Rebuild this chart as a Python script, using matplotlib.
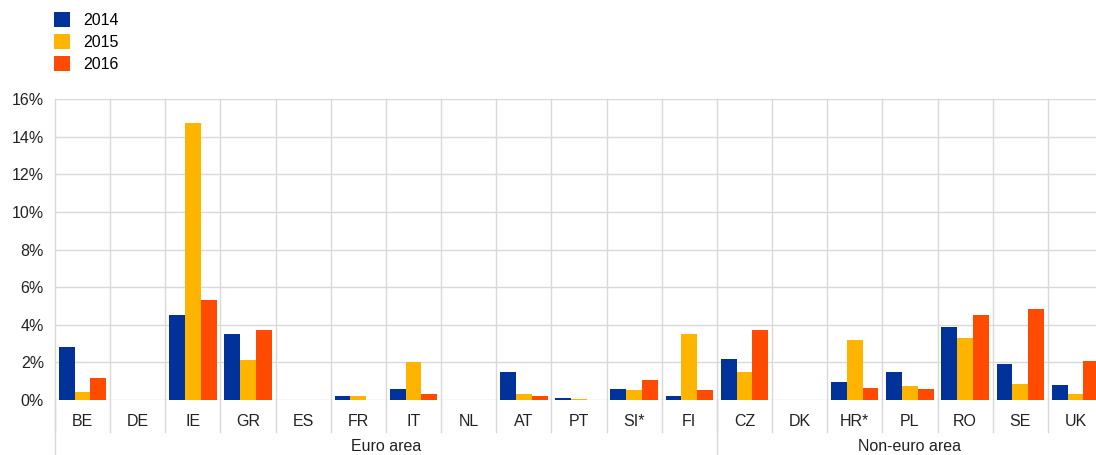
import matplotlib
matplotlib.use("Agg")
import matplotlib.pyplot as plt
import matplotlib.transforms as mtransforms
import numpy as np

plt.rcParams['font.family'] = ['Liberation Sans', 'DejaVu Sans']

categories = ["BE", "DE", "IE", "GR", "ES", "FR", "IT", "NL", "AT", "PT", "SI*", "FI",
              "CZ", "DK", "HR*", "PL", "RO", "SE", "UK"]
groups = ["Euro area", "Non-euro area"]
group_sizes = [12, 7]
series_names = ["2014", "2015", "2016"]
v2014 = [2.82, 0.02, 4.52, 3.51, 0.0, 0.21, 0.58, 0.0, 1.49, 0.08, 0.58, 0.20,
         2.18, 0.02, 0.97, 1.49, 3.88, 1.90, 0.80]
v2015 = [0.43, 0.0, 14.73, 2.13, 0.0, 0.21, 2.02, 0.0, 0.30, 0.07, 0.53, 3.52,
         1.49, 0.0, 3.21, 0.73, 3.30, 0.85, 0.30]
v2016 = [1.17, 0.02, 5.32, 3.72, 0.0, 0.02, 0.32, 0.0, 0.20, 0.02, 1.07, 0.53,
         3.70, 0.02, 0.62, 0.57, 4.52, 4.82, 2.07]
colors = ["#003299", "#FFB400", "#FF4B00"]
yticks = [0, 2, 4, 6, 8, 10, 12, 14, 16]

W, H = 1096, 455
FS = 11.5
fig = plt.figure(figsize=(W / 100, H / 100), dpi=100)
ax = fig.add_axes([55 / W, (H - 400) / H, (1103 - 55) / W, (400 - 99) / H])

n = len(categories)
x = np.arange(n)
bw = 0.286
grid_c = "#d9d9d9"
for i, (vals, c, name) in enumerate(zip([v2014, v2015, v2016], colors, series_names)):
    ax.bar(x + (i - 1) * bw, vals, width=bw, color=c, label=name, zorder=3,
           edgecolor="none")

ax.set_xlim(-0.5, n - 0.5)
ax.set_ylim(0, 16)
ax.set_yticks(yticks)
ax.set_yticklabels([f"{t}%" for t in yticks], fontsize=FS, color="#222222")
ax.set_xticks(x)
ax.set_xticklabels(categories, fontsize=FS, color="#222222")
ax.tick_params(axis="both", length=0)
ax.tick_params(axis="x", pad=10)
ax.tick_params(axis="y", pad=8)
for s in ax.spines.values():
    s.set_visible(False)

for t in yticks:
    ax.axhline(t, color=grid_c, lw=1, zorder=1)

trans = mtransforms.blended_transform_factory(ax.transData, ax.transAxes)
bounds = np.cumsum([0] + group_sizes)
for b in np.arange(n + 1) - 0.5:
    ax.plot([b, b], [1, 0], color=grid_c, lw=1, zorder=1, transform=trans, clip_on=False)
    ax.plot([b, b], [0, -0.106], color=grid_c, lw=1, zorder=1, transform=trans, clip_on=False)
for b in bounds:
    ax.plot([b - 0.5, b - 0.5], [0, -0.19], color=grid_c, lw=1, zorder=1,
            transform=trans, clip_on=False)
for gi, g in enumerate(groups):
    mid = (bounds[gi] + bounds[gi + 1]) / 2 - 0.5
    ax.text(mid, -0.156, g, transform=trans, ha="center", va="center",
            fontsize=FS, color="#222222")

handles, labels = ax.get_legend_handles_labels()
fig.legend(handles, labels, loc="upper left", bbox_to_anchor=(48 / W, 1 - 6 / H),
           frameon=False, fontsize=FS, handlelength=1.0, handleheight=1.0,
           handletextpad=0.8, labelspacing=0.4, borderaxespad=0)

fig.savefig("out.png", dpi=100)
